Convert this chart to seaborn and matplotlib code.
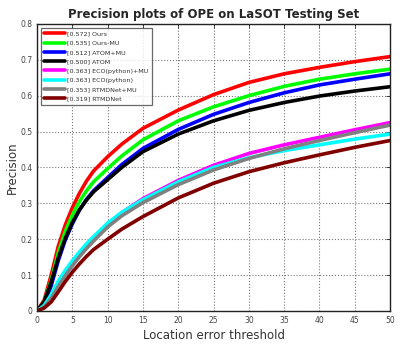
import numpy as np
import pandas as pd
import matplotlib
matplotlib.use('Agg')
import matplotlib.pyplot as plt
import seaborn as sns

# thresholds (px) and precision
thresholds = [0, 1, 2, 3, 4, 5, 6, 7, 8, 10, 12, 15, 20, 25, 30, 35, 40, 45, 50]

ours = [0.0, 0.03, 0.10, 0.18, 0.24, 0.288, 0.328, 0.362, 0.39, 0.43, 0.465, 0.509, 0.560, 0.603, 0.637, 0.661, 0.679, 0.695, 0.709]
ours_mu = [0.0, 0.025, 0.085, 0.162, 0.222, 0.268, 0.305, 0.335, 0.36, 0.397, 0.432, 0.477, 0.530, 0.569, 0.600, 0.626, 0.646, 0.661, 0.674]
atom_mu = [0.0, 0.02, 0.07, 0.14, 0.198, 0.243, 0.281, 0.311, 0.335, 0.372, 0.408, 0.453, 0.506, 0.548, 0.581, 0.608, 0.630, 0.646, 0.661]
atom = [0.0, 0.025, 0.08, 0.148, 0.203, 0.247, 0.282, 0.309, 0.332, 0.366, 0.40, 0.444, 0.493, 0.530, 0.559, 0.581, 0.599, 0.613, 0.625]
eco_mu = [0.0, 0.012, 0.04, 0.078, 0.108, 0.136, 0.161, 0.184, 0.205, 0.242, 0.274, 0.313, 0.364, 0.406, 0.439, 0.463, 0.484, 0.505, 0.525]
eco = [0.0, 0.015, 0.045, 0.083, 0.113, 0.14, 0.164, 0.187, 0.207, 0.245, 0.275, 0.31, 0.360, 0.400, 0.427, 0.447, 0.463, 0.479, 0.493]
rtmdnet_mu = [0.0, 0.01, 0.035, 0.068, 0.098, 0.126, 0.151, 0.174, 0.195, 0.234, 0.265, 0.302, 0.352, 0.393, 0.425, 0.452, 0.475, 0.497, 0.518]
rtmdnet = [0.0, 0.008, 0.025, 0.053, 0.082, 0.108, 0.131, 0.152, 0.171, 0.20, 0.228, 0.263, 0.315, 0.356, 0.388, 0.413, 0.435, 0.456, 0.475]

labels = ['[0.572] Ours', '[0.535] Ours-MU', '[0.512] ATOM+MU', '[0.500] ATOM',
          '[0.363] ECO(python)+MU', '[0.363] ECO(python)', '[0.353] RTMDNet+MU', '[0.319] RTMDNet']
series = [ours, ours_mu, atom_mu, atom, eco_mu, eco, rtmdnet_mu, rtmdnet]
colors = ['#ff0000', '#00ff00', '#0000ff', '#000000', '#ff00ff', '#00ffff', '#808080', '#800000']

sns.set_style('white')
plt.rcParams['font.family'] = ['DejaVu Sans']

fig = plt.figure(figsize=(4.03, 3.47), dpi=100)
ax = fig.add_axes([0.092, 0.104, 0.876, 0.827])

for lab, vals, col in zip(labels, series, colors):
    sns.lineplot(x=thresholds, y=vals, color=col, label=lab, linewidth=2.6, ax=ax)

ax.set_xlim(0, 50)
ax.set_ylim(0, 0.8)
ax.set_xticks(np.arange(0, 51, 5))
ax.set_yticks(np.arange(0, 0.81, 0.1))
ax.set_yticklabels(['0', '0.1', '0.2', '0.3', '0.4', '0.5', '0.6', '0.7', '0.8'])
ax.grid(True, linestyle=':', color='#777777', linewidth=0.8)
ax.tick_params(direction='in', labelsize=5.5, labelcolor='#444444', length=3, width=0.6,
               top=True, right=True)
for sp in ax.spines.values():
    sp.set_color('#222222')
    sp.set_linewidth(1.0)

ax.set_title('Precision plots of OPE on LaSOT Testing Set', fontsize=8.5, fontweight='bold', pad=4)
ax.set_xlabel('Location error threshold', fontsize=8.5, color='#333333', labelpad=3)
ax.set_ylabel('Precision', fontsize=8.5, color='#333333', labelpad=1)

leg = ax.legend(loc='upper left', fontsize=4.6, frameon=True, fancybox=False,
                handlelength=3.3, handletextpad=0.3, borderpad=0.5, labelspacing=0.6,
                borderaxespad=0.6)
leg.get_frame().set_edgecolor('#444444')
leg.get_frame().set_linewidth(0.9)
for t in leg.get_texts():
    t.set_color('#333333')

fig.savefig('out.png', dpi=100)
